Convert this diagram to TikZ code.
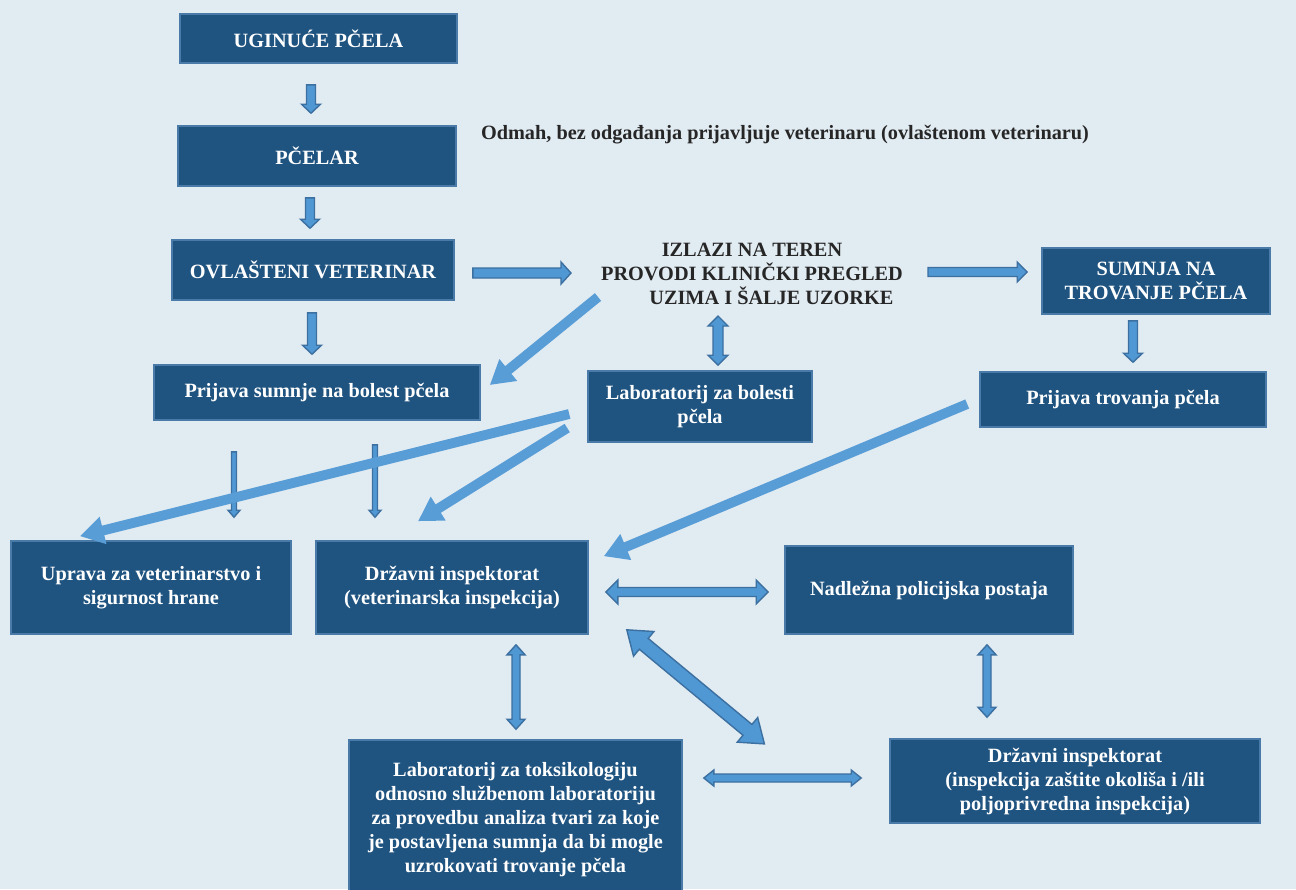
\documentclass[tikz,border=0pt]{standalone}
\usepackage{fontspec}
\setmainfont{Liberation Serif}
\usetikzlibrary{calc,arrows.meta}

\definecolor{bgblue}{RGB}{225,235,242}
\definecolor{boxblue}{RGB}{31,83,128}
\definecolor{boxline}{RGB}{74,123,168}
\definecolor{arrfill}{RGB}{80,152,212}
\definecolor{arrline}{RGB}{60,112,160}

\newcommand\pxu{0.5669pt}
% block arrow: [style]{from}{to}{shaft}{head}{head length}, sizes in px
\newcommand\barrowangle{0}
\newcommand\barrowlen{0}
\newcommand\measurearrow[2]{%
  \path let \p1=($#2-#1$) in \pgfextra{%
    \pgfmathsetmacro\tmpang{atan2(\y1,\x1)}\xdef\barrowangle{\tmpang}%
    \pgfmathsetmacro\tmplen{veclen(\x1,\y1)}\xdef\barrowlen{\tmplen}};}
\newcommand\onearrow[6][]{%
  \measurearrow{#2}{#3}
  \begin{scope}[shift={#2},rotate=\barrowangle]
    \filldraw[blockarr,#1] (0pt,{-#4/2*\pxu}) -- ({\barrowlen pt-#6*\pxu},{-#4/2*\pxu})
      -- ({\barrowlen pt-#6*\pxu},{-#5/2*\pxu}) -- (\barrowlen pt,0pt)
      -- ({\barrowlen pt-#6*\pxu},{#5/2*\pxu}) -- ({\barrowlen pt-#6*\pxu},{#4/2*\pxu})
      -- (0pt,{#4/2*\pxu}) -- cycle;
  \end{scope}}
\newcommand\twoarrow[6][]{%
  \measurearrow{#2}{#3}
  \begin{scope}[shift={#2},rotate=\barrowangle]
    \filldraw[blockarr,#1] (0pt,0pt) -- ({#6*\pxu},{#5/2*\pxu}) -- ({#6*\pxu},{#4/2*\pxu})
      -- ({\barrowlen pt-#6*\pxu},{#4/2*\pxu}) -- ({\barrowlen pt-#6*\pxu},{#5/2*\pxu})
      -- (\barrowlen pt,0pt)
      -- ({\barrowlen pt-#6*\pxu},{-#5/2*\pxu}) -- ({\barrowlen pt-#6*\pxu},{-#4/2*\pxu})
      -- ({#6*\pxu},{-#4/2*\pxu}) -- ({#6*\pxu},{-#5/2*\pxu}) -- cycle;
  \end{scope}}

\tikzset{
  box/.style={draw=boxline, line width=0.9pt, fill=boxblue, text=white, align=center,
    font=\fontsize{11.5}{13.6}\selectfont\bfseries, inner sep=0pt},
  note/.style={align=center, font=\fontsize{11.5}{13.6}\selectfont\bfseries, text=black!85},
  blockarr/.style={fill=arrfill, draw=arrline, line width=0.8pt, line join=miter},
  diag/.style={arrfill!95!white, line width=5.6pt, -{Triangle[width=15pt,length=13.5pt]}}
}

\begin{document}
\begin{tikzpicture}[x=0.5669pt,y=-0.5669pt]
  \useasboundingbox (0,0) rectangle (1296,889);
  \fill[bgblue] (0,0) rectangle (1296,889);

  % boxes
  \node[box, minimum width=277*\pxu, minimum height=49*\pxu] (ug) at (318.5,38.5) {UGINUĆE PČELA};
  \node[box, minimum width=278*\pxu, minimum height=60*\pxu] (pc) at (317,156) {PČELAR};
  \node[box, minimum width=282*\pxu, minimum height=60*\pxu] (ov) at (313,270) {OVLAŠTENI VETERINAR};
  \node[note] (izl) at (752,274) {IZLAZI NA TEREN\\PROVODI KLINIČKI PREGLED\\\hspace*{22pt}UZIMA I ŠALJE UZORKE};
  \node[box, minimum width=228*\pxu, minimum height=66*\pxu] (su) at (1156,281) {SUMNJA NA\\TROVANJE PČELA};
  \node[box, minimum width=326*\pxu, minimum height=55*\pxu] (ps) at (317,392.5) {Prijava sumnje na bolest pčela};
  \node[box, minimum width=224*\pxu, minimum height=71*\pxu] (lb) at (700,406.5) {Laboratorij za bolesti\\pčela};
  \node[box, minimum width=286*\pxu, minimum height=55*\pxu] (pt) at (1123,399.5) {Prijava trovanja pčela};
  \node[box, minimum width=280*\pxu, minimum height=93*\pxu] (up) at (151,587.5) {Uprava za veterinarstvo i\\sigurnost hrane};
  \node[box, minimum width=272*\pxu, minimum height=93*\pxu] (di) at (452,587.5) {Državni inspektorat\\(veterinarska inspekcija)};
  \node[box, minimum width=288*\pxu, minimum height=88*\pxu] (np) at (929,590) {Nadležna policijska postaja};
  \node[box, minimum width=333*\pxu, minimum height=160*\pxu] (lt) at (515.5,820) {Laboratorij za toksikologiju\\odnosno službenom laboratoriju\\za provedbu analiza tvari za koje\\je postavljena sumnja da bi mogle\\uzrokovati trovanje pčela};
  \node[box, minimum width=370*\pxu, minimum height=84*\pxu] (d2) at (1075,781) {Državni inspektorat\\(inspekcija zaštite okoliša i /ili\\poljoprivredna inspekcija)};
  \node[note] (odm) at (785,135) {Odmah, bez odgađanja prijavljuje veterinaru (ovlaštenom veterinaru)};

  % block arrows
  \onearrow{($(ug.south)+(-7.5,21)$)}{($(pc.north)+(-6,-12)$)}{9}{19}{9}
  \onearrow{($(pc.south)+(-7,11)$)}{($(ov.north)+(-3,-11)$)}{9}{19}{9}
  \onearrow{($(ov.south)+(-1,12)$)}{($(ps.north)+(-5,-10)$)}{9}{19}{9}
  \onearrow{($(su.south)+(-23,6)$)}{($(pt.north)+(10,-9)$)}{9}{19}{9}
  \onearrow{($(ov.east)+(18,3)$)}{($(izl.center)+(-181,-1)$)}{10}{22}{10}
  \onearrow{($(izl.center)+(176,-2)$)}{($(su.west)+(-14,-9)$)}{9}{20}{10}
  \twoarrow{($(izl.center)+(-34,42)$)}{($(lb.north)+(18,-5)$)}{10}{20}{10}
  \onearrow{($(ps.south)+(-83,31)$)}{($(up.north)+(83,-23)$)}{5}{12}{7}
  \onearrow{($(ps.south)+(58,24)$)}{($(di.north)+(-77,-23)$)}{5}{12}{7}
  \twoarrow{($(di.east)+(17,4.5)$)}{($(np.west)+(-16,2)$)}{9}{24}{12}
  \twoarrow{($(di.south)+(64,10)$)}{($(lt.north)+(0.5,-10)$)}{8}{18}{10}
  \twoarrow{($(np.south)+(58,10)$)}{($(d2.north)+(-88,-21)$)}{8}{18}{10}
  \twoarrow{($(di.south east)+(38,-5)$)}{($(lt.north east)+(82,5)$)}{14}{32}{22}
  \twoarrow{($(lt.east)+(21,-42)$)}{($(d2.west)+(-28,-3)$)}{8}{16}{10}

  % plain arrows
  \draw[diag] ($(izl.center)+(-154,23)$) -- ($(ps.east)+(9,-7.5)$);
  \draw[diag] ($(lb.west)+(-18,7.5)$) -- ($(up.north)+(-71,-4)$);
  \draw[diag] ($(lb.west)+(-20,21.5)$) -- ($(di.north)+(-34,-19)$);
  \draw[diag] ($(pt.west)+(-12,4.5)$) -- ($(di.north east)+(15,16)$);
\end{tikzpicture}
\end{document}
